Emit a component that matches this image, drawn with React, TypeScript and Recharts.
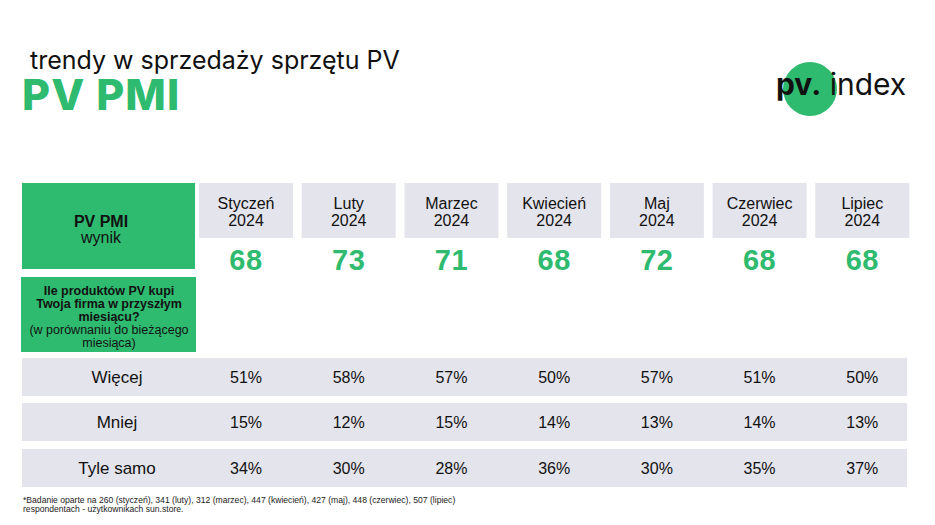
import { ComposedChart, Bar, XAxis, YAxis } from "recharts";

// months in the table header
const months = ["Styczeń", "Luty", "Marzec", "Kwiecień", "Maj", "Czerwiec", "Lipiec"];
const year = "2024";
// PV PMI score per month
const pmi = [68, 73, 71, 68, 72, 68, 68];
// answer shares (%) per month
const more = [51, 58, 57, 50, 57, 51, 50];
const less = [15, 12, 15, 14, 13, 14, 13];
const same = [34, 30, 28, 36, 30, 35, 37];
const rowLabels = ["Więcej", "Mniej", "Tyle samo"];
// respondents per month for the footnote
const respondents = [260, 341, 312, 447, 427, 448, 507];

const data = months.map((m, i) => ({
  month: m,
  pmi: pmi[i],
  more: more[i],
  less: less[i],
  same: same[i],
}));

const GREEN = "#2fbb6f";
const CELL = "#e4e4ec";
const TABLE_FONT = "'Liberation Sans', Arial, sans-serif";
const HEAD_FONT = "Inter, 'Liberation Sans', sans-serif";
const rowCenters = [377, 422, 468];
const rowKeys = ["more", "less", "same"];

const HeaderCell = (props: any) => {
  const { x, width, payload } = props;
  const cx = x + width / 2;
  return (
    <g>
      <rect x={x} y={183} width={width} height={55} fill={CELL} />
      <text x={cx} y={209} textAnchor="middle" fontSize={16} fill="#111" fontFamily={TABLE_FONT}>
        {payload.month}
      </text>
      <text x={cx} y={226} textAnchor="middle" fontSize={16} fill="#111" fontFamily={TABLE_FONT}>
        {year}
      </text>
      <text
        x={cx}
        y={270}
        textAnchor="middle"
        fontSize={29}
        fontWeight={700}
        letterSpacing={0.5}
        fill={GREEN}
        fontFamily={TABLE_FONT}
      >
        {payload.pmi}
      </text>
    </g>
  );
};

const pctCell = (row: number) => (props: any) => {
  const { x, width, payload } = props;
  return (
    <text
      x={x + width / 2}
      y={rowCenters[row] + 6}
      textAnchor="middle"
      fontSize={16}
      fill="#111"
      fontFamily={TABLE_FONT}
    >
      {payload[rowKeys[row]]}%
    </text>
  );
};

const footLine1 =
  "*Badanie oparte na " +
  respondents.map((r, i) => `${r} (${months[i].toLowerCase()})`).join(", ");

export default function App() {
  return (
    <div style={{ position: "absolute", left: 0, top: 0, width: 935, height: 525, background: "#fff" }}>
      <svg width={935} height={525} style={{ position: "absolute", left: 0, top: 0 }}>
        <text x={30} y={69} fontSize={25} fontFamily={HEAD_FONT} fill="#111">
          trendy w sprzedaży sprzętu PV
        </text>
        <text x={22} y={110} fontSize={43} fontWeight={800} letterSpacing={1.2} fontFamily={HEAD_FONT} fill={GREEN}>
          PV PMI
        </text>
        <circle cx={810} cy={89} r={27} fill={GREEN} />
        <text x={776} y={95} fontSize={30} fontFamily={HEAD_FONT} fill="#111">
          <tspan fontWeight={700}>pv.</tspan>
          <tspan> index</tspan>
        </text>

        <rect x={22} y={183} width={173} height={86} fill={GREEN} />
        <text x={101} y={227} textAnchor="middle" fontSize={16} fontWeight={700} fontFamily={TABLE_FONT} fill="#111">
          PV PMI
        </text>
        <text x={101} y={243} textAnchor="middle" fontSize={16} fontFamily={TABLE_FONT} fill="#111">
          wynik
        </text>

        <rect x={21} y={277} width={175} height={75} fill={GREEN} />
        <g textAnchor="middle" fontSize={12.5} fontFamily={TABLE_FONT} fill="#111">
          <text x={109} y={295} fontWeight={700}>Ile produktów PV kupi</text>
          <text x={109} y={308} fontWeight={700}>Twoja firma w przyszłym</text>
          <text x={109} y={321} fontWeight={700}>miesiącu?</text>
          <text x={109} y={334}>(w porównaniu do bieżącego</text>
          <text x={109} y={347}>miesiąca)</text>
        </g>

        {rowLabels.map((label, i) => (
          <g key={label}>
            <rect x={22} y={rowCenters[i] - 19} width={885} height={38} fill={CELL} />
            <text x={117} y={rowCenters[i] + 6} textAnchor="middle" fontSize={17} fontFamily={TABLE_FONT} fill="#111">
              {label}
            </text>
          </g>
        ))}

        <g fontSize={8.6} fontFamily={TABLE_FONT} fill="#222">
          <text x={23} y={503}>{footLine1}</text>
          <text x={23} y={512}>respondentach - użytkownikach sun.store.</text>
        </g>
      </svg>

      <div style={{ position: "absolute", left: 0, top: 0 }}>
        <ComposedChart
          width={935}
          height={525}
          data={data}
          margin={{ top: 0, right: 21, bottom: 0, left: 195 }}
        >
          <XAxis dataKey="month" hide />
          <YAxis hide />
          <Bar dataKey="pmi" stackId="col" barSize={94} fill="transparent" shape={HeaderCell} isAnimationActive={false} />
          <Bar dataKey="more" stackId="col" barSize={94} fill="transparent" shape={pctCell(0)} isAnimationActive={false} />
          <Bar dataKey="less" stackId="col" barSize={94} fill="transparent" shape={pctCell(1)} isAnimationActive={false} />
          <Bar dataKey="same" stackId="col" barSize={94} fill="transparent" shape={pctCell(2)} isAnimationActive={false} />
        </ComposedChart>
      </div>
    </div>
  );
}
